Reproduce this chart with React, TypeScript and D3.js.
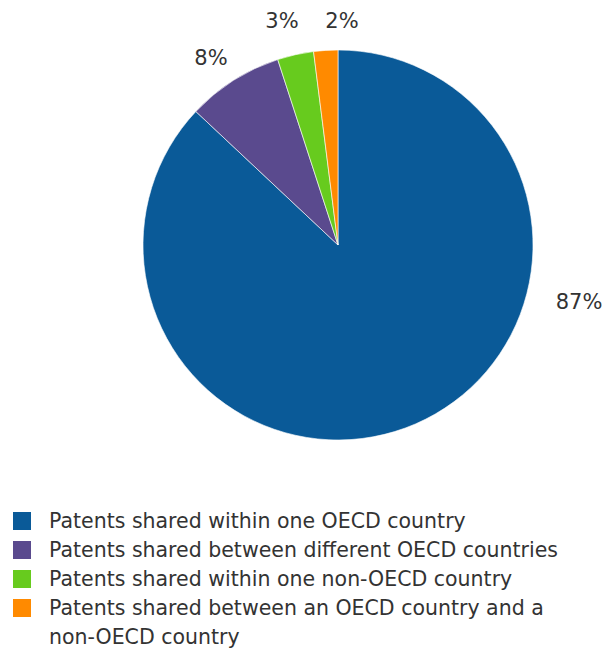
import React from "react";
import * as d3 from "d3";

const categories = [
  "Patents shared within one OECD country",
  "Patents shared between different OECD countries",
  "Patents shared within one non-OECD country",
  "Patents shared between an OECD country and a non-OECD country",
];
const values = [87, 8, 3, 2];
const labels = ["87%", "8%", "3%", "2%"];
const colors = ["#0a5a98", "#5a4a8e", "#67cb1e", "#ff8a00"];
const legendLines = [
  ["Patents shared within one OECD country"],
  ["Patents shared between different OECD countries"],
  ["Patents shared within one non-OECD country"],
  ["Patents shared between an OECD country and a", "non-OECD country"],
];

export default function App() {
  const W = 607, H = 651;
  const cx = 338, cy = 245, r = 195;
  const pie = d3.pie<number>().sort(null).value((d) => d);
  const arcs = pie(values);
  const arc = d3.arc<d3.PieArcDatum<number>>().innerRadius(0).outerRadius(r);
  const font = "'DejaVu Sans', Verdana, sans-serif";

  // label anchor positions (layout), placed outside the pie
  const labelPositions: [number, number][] = [
    [579, 302],
    [211, 58],
    [282, 21],
    [342, 21],
  ];

  let row = 0;
  return (
    <svg width={W} height={H} style={{ position: "absolute", left: 0, top: 0, background: "#fff" }}>
      <g transform={`translate(${cx},${cy})`}>
        {arcs.map((a, i) => (
          <path key={i} d={arc(a) || ""} fill={colors[i]} stroke="#ffffff" strokeWidth={0.6} />
        ))}
      </g>
      {arcs.map((a, i) => {
        const [x, y] = labelPositions[i];
        return (
          <text key={i} x={x} y={y} textAnchor="middle" dominantBaseline="central"
            fontFamily={font} fontSize={21} fill="#333">
            {labels[i]}
          </text>
        );
      })}
      {categories.map((c, i) => {
        const y0 = 521 + row * 29;
        const lines = legendLines[i];
        row += lines.length;
        return (
          <g key={c}>
            <rect x={13} y={y0 - 9} width={18} height={18} fill={colors[i]} />
            {lines.map((ln, j) => (
              <text key={j} x={49} y={y0 + j * 29} dominantBaseline="central"
                fontFamily={font} fontSize={20.5} fill="#333">
                {ln}
              </text>
            ))}
          </g>
        );
      })}
    </svg>
  );
}
